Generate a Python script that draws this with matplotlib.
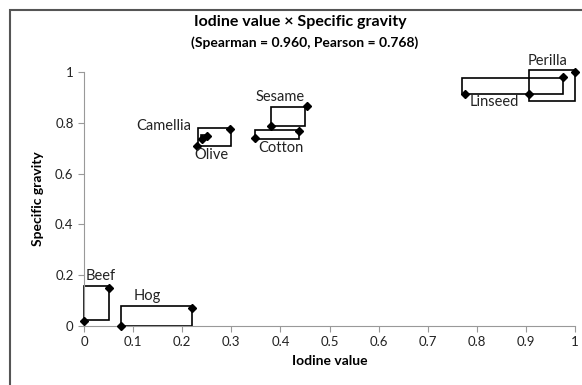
import matplotlib.pyplot as plt
from matplotlib.patches import Rectangle

plt.rcParams['font.family'] = ['Lato', 'DejaVu Sans']

# oils: (low iodine, low gravity) and (high iodine, high gravity) points, scaled 0..1
oils = ['Beef', 'Hog', 'Camellia', 'Olive', 'Sesame', 'Cotton', 'Linseed', 'Perilla']
iod_lo = [0.0, 0.075, 0.240, 0.230, 0.380, 0.349, 0.776, 0.906]
iod_hi = [0.050, 0.220, 0.250, 0.297, 0.455, 0.438, 0.976, 1.0]
sg_lo = [0.021, 0.0, 0.738, 0.709, 0.789, 0.740, 0.913, 0.913]
sg_hi = [0.151, 0.070, 0.750, 0.776, 0.866, 0.768, 0.980, 1.0]

# frames drawn around each oil's range
box_x0 = [0.0, 0.075, 0.238, 0.232, 0.380, 0.349, 0.769, 0.906]
box_x1 = [0.050, 0.220, 0.252, 0.300, 0.451, 0.438, 0.976, 1.0]
box_y0 = [0.025, 0.0, 0.735, 0.709, 0.789, 0.737, 0.913, 0.885]
box_y1 = [0.159, 0.080, 0.752, 0.778, 0.862, 0.773, 0.977, 1.008]

# label positions (centre of each name)
lab_x = [0.034, 0.128, 0.162, 0.260, 0.400, 0.400, 0.835, 0.945]
lab_y = [0.196, 0.118, 0.787, 0.673, 0.900, 0.700, 0.882, 1.043]

xticks = [0, 0.1, 0.2, 0.3, 0.4, 0.5, 0.6, 0.7, 0.8, 0.9, 1]
yticks = [0, 0.2, 0.4, 0.6, 0.8, 1]

fig = plt.figure(figsize=(5.82, 3.85), dpi=100)
ax = fig.add_axes([84 / 582, 59 / 385, 491 / 582, 254 / 385])

# chart border
fig.patches.append(Rectangle((10 / 582, -0.1), 1.2, (375 + 38.5) / 385,
                             transform=fig.transFigure, fill=False,
                             edgecolor='#555555', lw=1.5))

for i in range(len(oils)):
    ax.add_patch(Rectangle((box_x0[i], box_y0[i]), box_x1[i] - box_x0[i],
                           box_y1[i] - box_y0[i], fill=False,
                           edgecolor='black', lw=1.2, clip_on=False, zorder=2))
    ax.plot([iod_lo[i], iod_hi[i]], [sg_lo[i], sg_hi[i]], ls='none',
            marker='D', ms=4, color='black', clip_on=False, zorder=3)
    ax.text(lab_x[i], lab_y[i], oils[i], ha='center', va='center',
            fontsize=10.5, color='#222222')

ax.set_xlim(0, 1)
ax.set_ylim(0, 1)
ax.set_xticks(xticks)
ax.set_xticklabels([f'{t:g}' for t in xticks])
ax.set_yticks(yticks)
ax.set_yticklabels([f'{t:g}' for t in yticks])
ax.tick_params(direction='out', length=4, color='#999999', labelsize=9.5,
               labelcolor='#222222')
for s in ['top', 'right']:
    ax.spines[s].set_visible(False)
for s in ['left', 'bottom']:
    ax.spines[s].set_color('#999999')

ax.set_xlabel('Iodine value', fontsize=10, fontweight='bold', labelpad=5)
ax.set_ylabel('Specific gravity', fontsize=10, fontweight='bold', labelpad=8)

fig.text(0.516, 1 - 22 / 385, 'Iodine value × Specific gravity',
         ha='center', va='center', fontsize=11.5, fontweight='bold')
fig.text(0.523, 1 - 43 / 385, '(Spearman = 0.960, Pearson = 0.768)',
         ha='center', va='center', fontsize=10, fontweight='bold')

fig.savefig('out.png', dpi=100)
